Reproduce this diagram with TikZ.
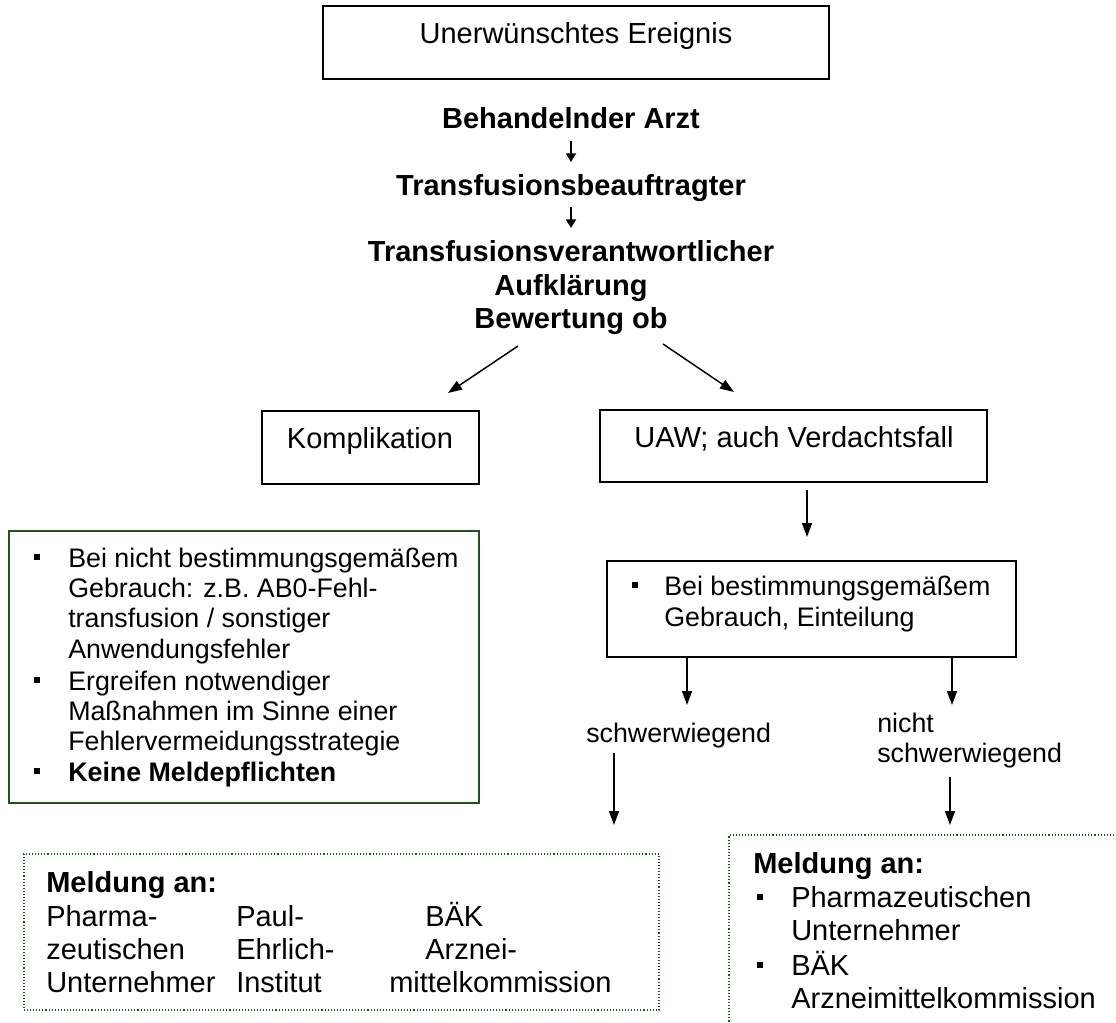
\documentclass[tikz,border=0pt]{standalone}
\usepackage{fontspec}
\setmainfont{Liberation Sans}
\usetikzlibrary{arrows.meta,fit}
\definecolor{dgreen}{RGB}{30,85,30}
\tikzset{
  px/.style={x={0.75pt},y={-0.75pt}},
  boxs/.style={draw=black,line width=1.4pt,inner sep=0pt},
  gbox/.style={draw=dgreen,line width=1.5pt,inner sep=0pt},
  dbox/.style={draw=dgreen,line width=0.8pt,dash pattern=on 0.8pt off 1.5pt,inner sep=0pt},
  big/.style={font=\fontsize{21.75}{26}\selectfont,inner sep=0pt},
  small/.style={font=\fontsize{20.1}{24}\selectfont,inner sep=0pt},
  lt/.style={anchor=base west},
  ct/.style={anchor=base},
  bul/.style={fill=black,inner sep=0pt,minimum size=5.2pt,rectangle},
  arr/.style={line width=1.1pt,-{Triangle[length=10.5pt,width=7.5pt]}},
  sarr/.style={line width=1.3pt,-{Triangle[length=6.5pt,width=7.5pt]}}
}
\begin{document}
\begin{tikzpicture}[px]
\useasboundingbox (0,0) rectangle (1116,1022);
% top box
\node[boxs,fit={(323,6)(829,79)}] (top) {};
\node[big,ct] (ue) at (576,43) {Unerwünschtes Ereignis};
% header chain
\node[big,ct] (ba) at (571,128) {\bfseries Behandelnder Arzt};
\node[big,ct] (tb) at (571,195) {\bfseries Transfusionsbeauftragter};
\node[big,ct] (tv) at (571,261) {\bfseries Transfusionsverantwortlicher};
\node[big,ct] (af) at (571,295) {\bfseries Aufklärung};
\node[big,ct] (bw) at (571,328) {\bfseries Bewertung ob};
\coordinate (s1a) at (571,141); \coordinate (s1b) at (571,162);
\coordinate (s2a) at (571,207); \coordinate (s2b) at (571,228);
\draw[sarr] (s1a) -- (s1b);
\draw[sarr] (s2a) -- (s2b);
% branch arrows
\coordinate (l1) at (518,346); \coordinate (l2) at (448,393);
\coordinate (r1) at (663,344); \coordinate (r2) at (734,392);
\draw[arr] (l1) -- (l2);
\draw[arr] (r1) -- (r2);
% Komplikation / UAW
\node[boxs,fit={(262,411)(479,484)}] (kb) {};
\node[big,ct] (kt) at (370,448) {Komplikation};
\node[boxs,fit={(600,410)(987,482)}] (ub) {};
\node[big,ct] (ut) at (794,447) {UAW; auch Verdachtsfall};
\coordinate (u1) at (807,490); \coordinate (u2) at (807,537);
\draw[arr] (u1) -- (u2);
% green box
\node[gbox,fit={(9,531)(479,803)}] (gb) {};
\node[bul] (gb1) at (37,557) {};
\node[small,lt] (g1) at (68,567) {Bei nicht bestimmungsgemäßem};
\node[small,lt] (g2) at (68,597) {Gebrauch: z.B. AB0-Fehl-};
\node[small,lt] (g3) at (68,627) {transfusion / sonstiger};
\node[small,lt] (g4) at (68,658) {Anwendungsfehler};
\node[bul] (gb2) at (37,680) {};
\node[small,lt] (g5) at (68,690) {Ergreifen notwendiger};
\node[small,lt] (g6) at (68,720) {Maßnahmen im Sinne einer};
\node[small,lt] (g7) at (68,750) {Fehlervermeidungsstrategie};
\node[bul] (gb3) at (37,771) {};
\node[small,lt] (g8) at (68,781) {\bfseries Keine Meldepflichten};
% right bullet box
\node[boxs,fit={(607,561)(1016,657)}] (bb) {};
\node[bul] (bb1) at (635,585) {};
\node[small,lt] (b1) at (664,595) {Bei bestimmungsgemäßem};
\node[small,lt] (b2) at (664,626) {Gebrauch, Einteilung};
\coordinate (v1a) at (687,657); \coordinate (v1b) at (687,705);
\coordinate (v2a) at (952,657); \coordinate (v2b) at (952,705);
\draw[arr] (v1a) -- (v1b);
\draw[arr] (v2a) -- (v2b);
\node[small,lt] (sw) at (586,742) {schwerwiegend};
\node[small,lt] (ns1) at (877,732) {nicht};
\node[small,lt] (ns2) at (877,762) {schwerwiegend};
\coordinate (w1a) at (614,753); \coordinate (w1b) at (614,825);
\coordinate (w2a) at (950,777); \coordinate (w2b) at (950,825);
\draw[arr] (w1a) -- (w1b);
\draw[arr] (w2a) -- (w2b);
% left Meldung box
\node[dbox,fit={(24,854)(659,1010)}] (lm) {};
\node[big,lt] (lm0) at (46,892) {\bfseries Meldung an:};
\node[big,lt] (lm1) at (46,926) {Pharma-};
\node[big,lt] (lm2) at (46,959) {zeutischen};
\node[big,lt] (lm3) at (46,992) {Unternehmer};
\node[big,lt] (lm4) at (236,926) {Paul-};
\node[big,lt] (lm5) at (236,959) {Ehrlich-};
\node[big,lt] (lm6) at (236,992) {Institut};
\node[big,lt] (lm7) at (425,926) {BÄK};
\node[big,lt] (lm8) at (425,959) {Arznei-};
\node[big,lt] (lm9) at (389,992) {mittelkommission};
% right Meldung box (extends beyond page)
\node[dbox,fit={(729,835)(1140,1045)}] (rm) {};
\node[big,lt] (rm0) at (753,873) {\bfseries Meldung an:};
\node[bul] (rb1) at (760,897) {};
\node[big,lt] (rm1) at (791,907) {Pharmazeutischen};
\node[big,lt] (rm2) at (791,940) {Unternehmer};
\node[bul] (rb2) at (760,965) {};
\node[big,lt] (rm3) at (791,975) {BÄK};
\node[big,lt] (rm4) at (791,1008) {Arzneimittelkommission};
\end{tikzpicture}
\end{document}
